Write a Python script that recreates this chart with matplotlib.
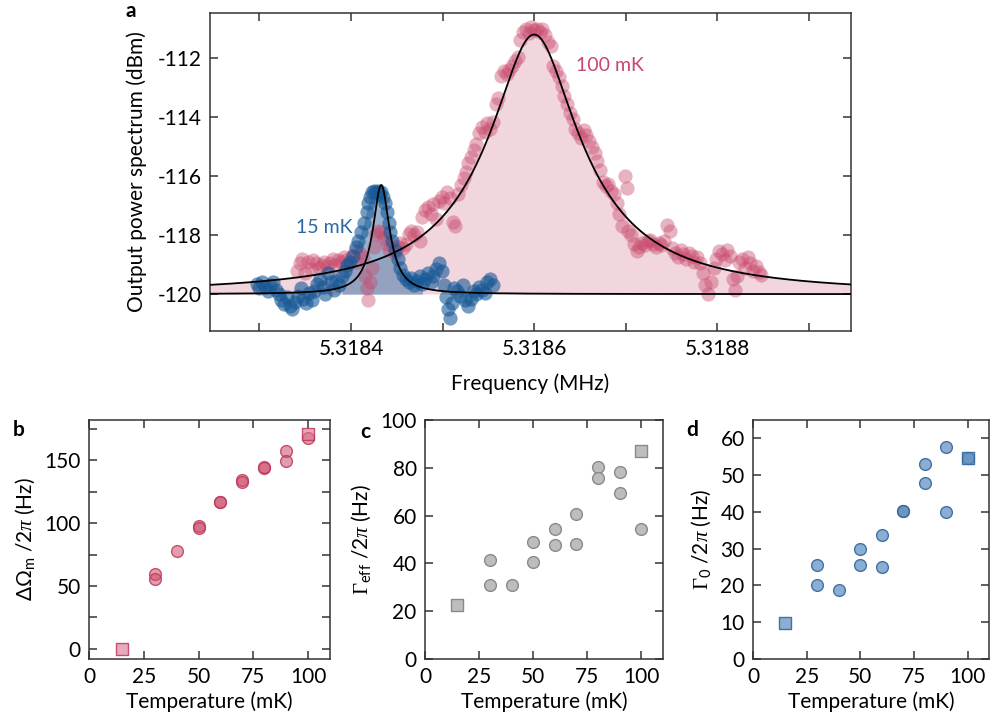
import matplotlib
matplotlib.use('Agg')
import matplotlib.pyplot as plt
import numpy as np
from matplotlib.ticker import MultipleLocator, FormatStrFormatter

plt.rcParams['font.family'] = ['Lato', 'DejaVu Sans']
plt.rcParams['axes.unicode_minus'] = False
plt.rcParams['mathtext.fontset'] = 'custom'
plt.rcParams['mathtext.rm'] = 'Liberation Serif'
plt.rcParams['mathtext.it'] = 'Liberation Serif:italic'
plt.rcParams['mathtext.sf'] = 'Lato'

# ---------------- data: panel a ----------------
red_freq = [5.318341, 5.318344, 5.318347, 5.318350, 5.318353, 5.318356, 5.318359, 5.318362,
            5.318365, 5.318368, 5.318371, 5.318374, 5.318377, 5.318380, 5.318383, 5.318386,
            5.318389, 5.318392, 5.318395, 5.318398, 5.318401, 5.318404, 5.318407, 5.318410,
            5.318413, 5.318415, 5.318417, 5.318419, 5.318421, 5.318423, 5.318425, 5.318427,
            5.318430, 5.318433, 5.318436, 5.318439, 5.318442, 5.318445, 5.318448, 5.318451,
            5.318454, 5.318457, 5.318460, 5.318463, 5.318466, 5.318469, 5.318472, 5.318475,
            5.318478, 5.318481, 5.318484, 5.318487, 5.318490, 5.318493, 5.318496, 5.318499,
            5.318502, 5.318505, 5.318508, 5.318511, 5.318514, 5.318517, 5.318520, 5.318523,
            5.318526, 5.318528, 5.318531, 5.318534, 5.318537, 5.318540, 5.318543, 5.318546,
            5.318549, 5.318552, 5.318555, 5.318558, 5.318561, 5.318564, 5.318567, 5.318570,
            5.318573, 5.318576, 5.318579, 5.318582, 5.318585, 5.318588, 5.318591, 5.318594,
            5.318597, 5.318600, 5.318603, 5.318606, 5.318609, 5.318612, 5.318615, 5.318618,
            5.318621, 5.318624, 5.318627, 5.318630, 5.318633, 5.318636, 5.318639, 5.318642,
            5.318645, 5.318648, 5.318651, 5.318654, 5.318657, 5.318660, 5.318663, 5.318666,
            5.318669, 5.318672, 5.318675, 5.318678, 5.318681, 5.318684, 5.318687, 5.318690,
            5.318693, 5.318696, 5.318699, 5.318701, 5.318703, 5.318706, 5.318709, 5.318712,
            5.318715, 5.318718, 5.318721, 5.318724, 5.318727, 5.318730, 5.318733, 5.318736,
            5.318739, 5.318742, 5.318745, 5.318748, 5.318751, 5.318754, 5.318757, 5.318760,
            5.318763, 5.318766, 5.318769, 5.318772, 5.318775, 5.318778, 5.318781, 5.318784,
            5.318787, 5.318790, 5.318793, 5.318796, 5.318799, 5.318802, 5.318805, 5.318808,
            5.318811, 5.318814, 5.318817, 5.318819, 5.318821, 5.318824, 5.318827, 5.318830,
            5.318833, 5.318836, 5.318839, 5.318842, 5.318845, 5.318848]
red_db = [-119.20, -118.95, -118.80, -119.30, -118.90, -119.15, -118.85, -118.95,
          -119.10, -119.00, -118.90, -119.05, -118.95, -118.80, -119.00, -118.85,
          -118.90, -118.75, -118.85, -118.95, -118.70, -118.55, -118.90, -118.60,
          -118.75, -119.40, -119.80, -120.20, -119.60, -119.10, -118.40, -117.95,
          -117.85, -117.90, -118.10, -118.30, -118.50, -118.35, -118.60, -118.40,
          -118.25, -118.45, -118.30, -117.95, -117.85, -118.00, -117.90, -118.20,
          -117.40, -117.15, -117.05, -117.30, -116.95, -117.45, -116.85, -116.70,
          -116.90, -116.55, -116.75, -117.55, -117.70, -116.60, -116.30, -116.05,
          -115.85, -115.55, -115.35, -115.10, -114.90, -114.55, -114.35, -114.50,
          -114.20, -114.40, -114.15, -113.55, -113.35, -112.60, -112.45, -112.55,
          -112.40, -112.25, -112.10, -111.95, -111.40, -111.10, -111.00, -111.15,
          -110.95, -111.05, -111.00, -111.10, -111.00, -111.20, -111.45, -111.60,
          -112.25, -112.45, -112.65, -112.95, -113.30, -113.55, -113.85, -114.05,
          -114.40, -114.55, -114.70, -114.45, -114.60, -114.80, -115.00, -115.20,
          -115.50, -115.80, -116.20, -116.35, -116.25, -116.50, -116.60, -116.90,
          -117.30, -117.70, -116.00, -116.40, -117.85, -118.00, -118.30, -118.55,
          -118.40, -118.25, -118.35, -118.20, -118.15, -118.30, -118.40, -118.25,
          -118.35, -118.20, -117.65, -117.85, -118.45, -118.60, -118.75, -118.50,
          -118.65, -118.80, -118.60, -118.70, -118.90, -118.75, -118.95, -119.30,
          -119.70, -120.00, -119.60, -119.10, -118.80, -118.55, -118.65, -118.85,
          -118.50, -118.70, -119.50, -119.85, -119.40, -118.90, -118.80, -119.10,
          -118.75, -118.95, -119.20, -119.05, -119.25, -119.35]

blue_freq = [5.318297, 5.318300, 5.318303, 5.318306, 5.318309, 5.318312, 5.318315, 5.318318,
             5.318321, 5.318324, 5.318327, 5.318330, 5.318333, 5.318336, 5.318339, 5.318342,
             5.318345, 5.318348, 5.318351, 5.318354, 5.318357, 5.318360, 5.318363, 5.318366,
             5.318369, 5.318372, 5.318375, 5.318378, 5.318381, 5.318384, 5.318387, 5.318390,
             5.318393, 5.318396, 5.318399, 5.318402, 5.318405, 5.318408, 5.318411, 5.318414,
             5.318417, 5.318419, 5.318421, 5.318423, 5.318425, 5.318427, 5.318429, 5.318431,
             5.318433, 5.318435, 5.318437, 5.318439, 5.318441, 5.318443, 5.318445, 5.318448,
             5.318451, 5.318454, 5.318457, 5.318460, 5.318463, 5.318466, 5.318469, 5.318472,
             5.318475, 5.318478, 5.318481, 5.318484, 5.318487, 5.318490, 5.318493, 5.318496,
             5.318499, 5.318502, 5.318504, 5.318506, 5.318508, 5.318510, 5.318513, 5.318516,
             5.318519, 5.318522, 5.318525, 5.318528, 5.318531, 5.318534, 5.318537, 5.318540,
             5.318543, 5.318546, 5.318549, 5.318552, 5.318555]
blue_db = [-119.65, -119.80, -119.60, -119.75, -119.90, -119.70, -119.60, -119.85,
           -120.00, -120.20, -120.35, -120.10, -120.40, -120.50, -120.25, -120.05,
           -119.80, -120.15, -120.30, -119.95, -120.20, -119.90, -119.65, -119.50,
           -119.75, -120.00, -119.30, -119.60, -119.85, -119.55, -119.70, -119.40,
           -119.20, -119.00, -118.90, -118.70, -118.40, -118.20, -117.90, -117.60,
           -117.20, -116.90, -116.70, -116.55, -116.50, -116.55, -116.50, -116.60,
           -116.55, -116.70, -116.90, -117.20, -117.60, -117.90, -118.20, -118.50,
           -118.80, -119.10, -119.35, -119.50, -119.60, -119.45, -119.70, -119.55,
           -119.40, -119.65, -119.50, -119.30, -119.60, -119.40, -119.15, -118.95,
           -119.20, -119.70, -120.10, -120.50, -120.80, -120.30, -119.80, -119.90,
           -120.05, -119.70, -120.20, -120.40, -120.15, -119.90, -120.00, -119.75,
           -119.85, -119.95, -119.60, -119.50, -119.70]

# Lorentzian fit parameters
red_fit_center, red_fit_hwhm, red_fit_peak = 5.3186, 38e-6, -111.2
blue_fit_center, blue_fit_hwhm, blue_fit_peak = 5.318433, 9e-6, -116.3
fit_base = -120.0
blue_fill_range = (5.318390, 5.318478)

# ---------------- data: panels b, c, d ----------------
b_temp = [30, 30, 40, 50, 50, 60, 60, 70, 70, 80, 80, 90, 90, 100]
b_val = [59.7, 55.7, 77.5, 97.4, 96.0, 116.8, 117.2, 134.6, 132.7, 143.9, 144.3, 157.4, 149.5, 168.0]
b_sq_temp = [15, 100]
b_sq_val = [0.0, 170.7]

c_temp = [30, 30, 40, 50, 50, 60, 60, 70, 70, 80, 80, 90, 90, 100]
c_val = [41.3, 31.0, 31.0, 48.9, 40.6, 54.5, 47.8, 60.5, 48.3, 80.3, 75.8, 78.4, 69.4, 54.5]
c_sq_temp = [15, 100]
c_sq_val = [22.5, 87.2]

d_temp = [30, 30, 40, 50, 50, 60, 60, 70, 70, 80, 80, 90, 90, 100]
d_val = [25.7, 20.2, 18.7, 30.0, 25.7, 33.7, 25.1, 40.2, 40.2, 53.0, 47.9, 57.6, 40.0, 54.7]
d_sq_temp = [15, 100]
d_sq_val = [9.7, 54.7]

# ---------------- figure ----------------
W, H = 992, 722
fig = plt.figure(figsize=(W / 100, H / 100), dpi=100)


def rect(l, t, r, b):
    return [l / W, 1 - b / H, (r - l) / W, (b - t) / H]


spine_col = '#333333'
FS = 15


def style_axes(ax):
    for s in ax.spines.values():
        s.set_color(spine_col)
        s.set_linewidth(1.1)
    ax.tick_params(which='both', direction='in', top=True, right=True, length=6,
                   width=1.1, color=spine_col, labelsize=FS, pad=6)


def lorentz_db(f, f0, hwhm, peak_db, base_db):
    base = 10 ** (base_db / 10)
    amp = 10 ** (peak_db / 10) - base
    return 10 * np.log10(base + amp / (1 + ((f - f0) / hwhm) ** 2))


# ----- panel a -----
ax = fig.add_axes(rect(210, 13, 851, 331))
xlo, xhi = 5.318246, 5.318946
ff = np.linspace(xlo, xhi, 3000)
red_fit = lorentz_db(ff, red_fit_center, red_fit_hwhm, red_fit_peak, fit_base)
blue_fit = lorentz_db(ff, blue_fit_center, blue_fit_hwhm, blue_fit_peak, fit_base)

ax.fill_between(ff, fit_base, red_fit, color='#f2d6dd', lw=0, zorder=1)
bf = np.array(blue_freq)
bd = np.array(blue_db)
mask = (bf >= blue_fill_range[0]) & (bf <= blue_fill_range[1])
ax.fill_between(bf[mask], fit_base, np.maximum(bd[mask], fit_base), color='#5580ad',
                alpha=0.6, lw=0, zorder=2)
ax.scatter(red_freq, red_db, s=105, color='#c94a6d', alpha=0.42, lw=0, zorder=3)
ax.scatter(blue_freq, blue_db, s=105, color='#175896', alpha=0.6, lw=0, zorder=4)
ax.plot(ff, red_fit, color='black', lw=1.3, zorder=5)
ax.plot(ff, blue_fit, color='black', lw=1.3, zorder=5)

ax.text(5.318646, -112.26, '100 mK', color='#c8476a', fontsize=14, va='center', ha='left')
ax.text(5.318340, -117.75, '15 mK', color='#2d68a4', fontsize=14, va='center', ha='left')

ax.set_xlim(xlo, xhi)
ax.set_ylim(-121.25, -110.47)
ax.xaxis.set_major_locator(MultipleLocator(0.0002))
ax.xaxis.set_minor_locator(MultipleLocator(0.0001))
ax.xaxis.set_major_formatter(FormatStrFormatter('%.4f'))
ax.yaxis.set_major_locator(MultipleLocator(2))
style_axes(ax)
ax.set_xlabel('Frequency (MHz)', fontsize=FS, labelpad=10)
ax.set_ylabel('Output power spectrum (dBm)', fontsize=FS, labelpad=8)
fig.text(131 / W, 1 - 1 / H, 'a', fontsize=FS, fontweight='bold', ha='center', va='top')


def small_panel(rect_px, temp, val, sq_t, sq_v, face, edge, sq_face, ylim, ymaj, ymin, ylabel, letter, letter_xy):
    ax = fig.add_axes(rect(*rect_px))
    ax.scatter(temp, val, s=72, facecolor=face, edgecolor=edge, lw=1.0, zorder=3)
    ax.scatter(sq_t, sq_v, s=72, marker='s', facecolor=sq_face, edgecolor=edge, lw=1.0, zorder=3)
    ax.set_xlim(0, 110)
    ax.set_ylim(*ylim)
    ax.xaxis.set_major_locator(MultipleLocator(25))
    ax.yaxis.set_major_locator(MultipleLocator(ymaj))
    if ymin:
        ax.yaxis.set_minor_locator(MultipleLocator(ymin))
    style_axes(ax)
    ax.set_xlabel('Temperature (mK)', fontsize=FS, labelpad=3)
    ax.set_ylabel(ylabel, fontsize=FS, labelpad=5)
    fig.text(letter_xy[0] / W, 1 - letter_xy[1] / H, letter, fontsize=FS, fontweight='bold',
             ha='center', va='center')
    return ax


small_panel((89, 420, 330, 659), b_temp, b_val, b_sq_temp, b_sq_val,
            (0.80, 0.30, 0.42, 0.55), (0.75, 0.22, 0.36, 0.85), (0.85, 0.45, 0.55, 0.6),
            (-8, 182), 50, 25, 'Δ\u03a9$_\\mathsf{m}$ /2$\\pi$ (Hz)', 'b', (19, 430))
small_panel((425, 420, 663, 659), c_temp, c_val, c_sq_temp, c_sq_val,
            '#bdbdbd', '#8a8a8a', '#bdbdbd',
            (0, 100), 20, None, '$\\Gamma_\\mathsf{eff}$ /2$\\pi$ (Hz)', 'c', (365, 432))
small_panel((753, 420, 989, 659), d_temp, d_val, d_sq_temp, d_sq_val,
            (0.36, 0.55, 0.75, 0.7), (0.20, 0.40, 0.62, 0.9), (0.36, 0.55, 0.75, 0.7),
            (0, 65), 10, None, '$\\Gamma_\\mathsf{0}$ /2$\\pi$ (Hz)', 'd', (692, 430))

fig.savefig('out.png', dpi=100)
